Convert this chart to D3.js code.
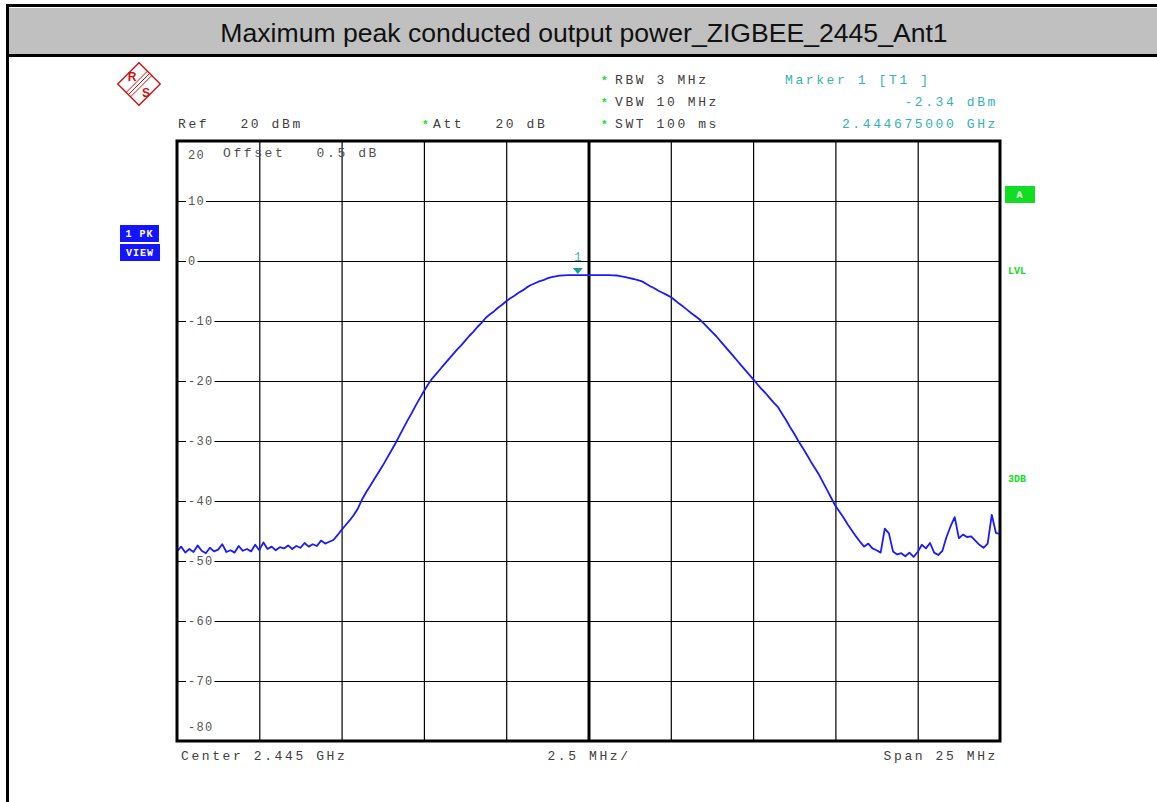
<!DOCTYPE html>
<html>
<head>
<meta charset="utf-8">
<script src="https://cdn.jsdelivr.net/npm/d3@7"></script>
<style>
body { margin: 0; background: #fff; }
svg text { font-family: "Courier New", "Liberation Mono", monospace; }
</style>
</head>
<body>
<div id="chart"></div>
<script>
const titleText = "Maximum peak conducted output power_ZIGBEE_2445_Ant1";
const centerMHz = 2445;
const spanMHz = 25;
const divMHz = 2.5;
const stepMHz = 0.125;
const yTicks = [20, 10, 0, -10, -20, -30, -40, -50, -60, -70, -80];
const markerMHz = 2444.675;
const markerDbm = -2.34;

// trace 1 (peak), one value per sweep point, 0.125 MHz apart from the left edge
const traceDbm = [
  -48.4, -47.6, -48.6, -48.0, -48.5, -47.4, -48.3, -48.7, -47.8, -48.4,
  -48.1, -47.2, -48.5, -48.2, -48.6, -47.5, -48.3, -48.0, -48.4, -47.3,
  -48.2, -46.9, -48.0, -47.6, -48.2, -47.7, -47.9, -47.4, -48.0, -47.5,
  -47.8, -47.0, -47.6, -47.2, -47.5, -46.6, -47.1, -46.8, -46.5, -45.7,
  -44.8, -44.0, -43.2, -42.3, -41.2, -39.7, -38.5, -37.4, -36.3, -35.2,
  -34.1, -32.9, -31.7, -30.5, -29.2, -27.9, -26.6, -25.4, -24.1, -22.9,
  -21.7, -20.6, -19.6, -18.8, -18.0, -17.2, -16.4, -15.6, -14.8, -14.1,
  -13.3, -12.5, -11.8, -11.0, -10.3, -9.5, -8.9, -8.4, -7.8, -7.3,
  -6.7, -6.2, -5.8, -5.3, -4.9, -4.4, -4.0, -3.7, -3.4, -3.2,
  -2.9, -2.7, -2.55, -2.45, -2.38, -2.36, -2.35, -2.34, -2.34, -2.35,
  -2.35, -2.35, -2.36, -2.36, -2.36, -2.37, -2.38, -2.42, -2.55, -2.7,
  -2.85, -3.0, -3.2, -3.4, -3.8, -4.2, -4.55, -4.95, -5.3, -5.65,
  -6.0, -6.55, -7.1, -7.6, -8.15, -8.7, -9.2, -9.75, -10.4, -11.1,
  -11.8, -12.5, -13.3, -14.1, -14.9, -15.7, -16.5, -17.3, -18.1, -18.9,
  -19.7, -20.5, -21.3, -22.0, -22.8, -23.6, -24.3, -25.4, -26.5, -27.7,
  -28.8, -30.0, -31.1, -32.2, -33.4, -34.5, -35.6, -36.9, -38.2, -39.5,
  -40.8, -41.8, -42.8, -43.9, -44.9, -45.9, -46.8, -47.6, -47.1, -47.9,
  -48.2, -48.6, -44.6, -45.4, -48.4, -48.9, -48.7, -49.2, -48.6, -49.3,
  -48.5, -47.3, -47.9, -47.0, -48.6, -49.0, -48.3, -46.0, -44.2, -42.7,
  -46.2, -45.6, -46.0, -45.9, -46.6, -47.3, -47.8, -47.1, -42.3, -45.3,
  -45.5
];

const width = 1157;
const height = 802;
const plot = { left: 177, top: 141, right: 1000, bottom: 741 };
const startMHz = centerMHz - spanMHz / 2;

const textGrey = "#404040";
const teal = "#33b3b3";
const green = "#11dd22";
const blue = "#1414ff";

const svg = d3.select("#chart")
              .append("svg")
              .attr("width", width)
              .attr("height", height)
              .style("display", "block");

// frame and title band
svg.append("rect")
   .attr("x", 8).attr("y", 8)
   .attr("width", width).attr("height", 47)
   .attr("fill", "#c0c0c0");
svg.append("path")
   .attr("d", `M7.5,${height} V5.5 H${width}`)
   .attr("fill", "none").attr("stroke", "#000").attr("stroke-width", 3);
svg.append("line")
   .attr("x1", 7).attr("x2", width).attr("y1", 55.5).attr("y2", 55.5)
   .attr("stroke", "#000").attr("stroke-width", 3);
svg.append("text")
   .attr("x", 584).attr("y", 33)
   .attr("text-anchor", "middle")
   .attr("dominant-baseline", "central")
   .style("font-family", "Arial, 'Liberation Sans', sans-serif")
   .attr("font-size", 26.6)
   .attr("fill", "#111")
   .text(titleText);

// R&S logo
const logo = svg.append("g").attr("transform", "translate(139,84)");
logo.append("rect")
    .attr("x", -15).attr("y", -15).attr("width", 30).attr("height", 30)
    .attr("transform", "rotate(45)")
    .attr("fill", "none").attr("stroke", "#cc1111").attr("stroke-width", 1.4);
[-2.2, 0, 2.2].forEach(o => {
  logo.append("line")
      .attr("x1", 10.6 + o).attr("y1", -10.6 + o)
      .attr("x2", -10.6 + o).attr("y2", 10.6 + o)
      .attr("stroke", "#cc1111").attr("stroke-width", 1);
});
logo.append("text").attr("x", -7).attr("y", -3).text("R")
    .style("font-family", "Arial, 'Liberation Sans', sans-serif")
    .attr("font-size", 12).attr("font-weight", "bold").attr("fill", "#cc1111")
    .attr("text-anchor", "middle");
logo.append("text").attr("x", 7).attr("y", 13).text("S")
    .style("font-family", "Arial, 'Liberation Sans', sans-serif")
    .attr("font-size", 12).attr("font-weight", "bold").attr("fill", "#cc1111")
    .attr("text-anchor", "middle");

// header texts
function label(x, y, txt, color, anchor) {
  return svg.append("text")
            .attr("x", x).attr("y", y)
            .attr("text-anchor", anchor || "start")
            .attr("dominant-baseline", "central")
            .attr("font-size", 13)
            .attr("letter-spacing", 2.6)
            .attr("fill", color)
            .style("white-space", "pre")
            .text(txt);
}
function star(x, y) {
  svg.append("text")
     .attr("x", x).attr("y", y + 1)
     .attr("dominant-baseline", "central")
     .attr("font-size", 11).attr("font-weight", "bold")
     .attr("fill", green).text("*");
}
label(178, 124, "Ref   20 dBm", textGrey);
star(422, 124);
label(433, 124, "Att   20 dB", textGrey);
star(601, 80); star(601, 102); star(601, 124);
label(615, 80, "RBW 3 MHz", textGrey);
label(615, 102, "VBW 10 MHz", textGrey);
label(615, 124, "SWT 100 ms", textGrey);
label(785, 80, "Marker 1 [T1 ]", teal);
label(998, 102, "-2.34 dBm", teal, "end");
label(998, 124, "2.444675000 GHz", teal, "end");

// side annotations
function tag(x, y, w, h, txt, fill) {
  svg.append("rect").attr("x", x).attr("y", y).attr("width", w).attr("height", h).attr("fill", fill);
  svg.append("text")
     .attr("x", x + w / 2).attr("y", y + h / 2 + 1)
     .attr("text-anchor", "middle").attr("dominant-baseline", "central")
     .attr("font-size", 10).attr("font-weight", "bold").attr("letter-spacing", 1)
     .attr("fill", "#fff").style("white-space", "pre").text(txt);
}
tag(120, 225, 39, 17, "1 PK", blue);
tag(120, 244, 40, 17, "VIEW", blue);
tag(1005, 186, 30, 17, "A", green);
["LVL", "3DB"].forEach((t, i) => {
  svg.append("text")
     .attr("x", 1008).attr("y", i === 0 ? 271 : 479)
     .attr("dominant-baseline", "central")
     .attr("font-size", 10).attr("font-weight", "bold")
     .attr("fill", green).text(t);
});

// scales
const x = d3.scaleLinear()
            .domain([startMHz, startMHz + spanMHz])
            .range([plot.left, plot.right]);
const y = d3.scaleLinear()
            .domain([d3.min(yTicks), d3.max(yTicks)])
            .range([plot.bottom, plot.top]);

const xDivs = d3.range(1, spanMHz / divMHz).map(i => startMHz + i * divMHz);

// grid via axes
const xGrid = svg.append("g")
                 .attr("transform", `translate(0, ${plot.bottom})`)
                 .call(d3.axisBottom(x)
                         .tickValues(xDivs)
                         .tickSize(-(plot.bottom - plot.top))
                         .tickFormat(""));
xGrid.select(".domain").remove();
xGrid.selectAll("line")
     .attr("stroke", "#000")
     .attr("stroke-width", d => Math.abs(d - centerMHz) < 1e-6 ? 3 : 1.2);

const yGrid = svg.append("g")
                 .attr("transform", `translate(${plot.left}, 0)`)
                 .call(d3.axisLeft(y)
                         .tickValues(yTicks.slice(1, -1))
                         .tickSize(-(plot.right - plot.left))
                         .tickFormat(""));
yGrid.select(".domain").remove();
yGrid.selectAll("line").attr("stroke", "#000").attr("stroke-width", 1.2);

// y labels
const yLab = svg.append("g");
yTicks.forEach((v, i) => {
  const inner = i > 0 && i < yTicks.length - 1;
  const yy = i === 0 ? y(v) + 14 : (i === yTicks.length - 1 ? y(v) - 14 : y(v));
  const t = yLab.append("text")
                .attr("x", 188).attr("y", yy + 1)
                .attr("dominant-baseline", "central")
                .attr("font-size", 12).attr("letter-spacing", 1.3)
                .attr("fill", "#555")
                .text(v);
  if (inner) {
    const b = t.node().getBBox();
    yLab.insert("rect", "text")
        .attr("x", b.x - 2).attr("y", b.y)
        .attr("width", b.width + 3).attr("height", b.height)
        .attr("fill", "#fff");
  }
});

label(223, 153, "Offset   0.5 dB", "#505050");

// trace
const traceLine = d3.line()
                    .x((d, i) => x(startMHz + i * stepMHz))
                    .y(d => y(d));
svg.append("path")
   .datum(traceDbm)
   .attr("d", traceLine)
   .attr("fill", "none")
   .attr("stroke", "#1a1aff")
   .attr("stroke-width", 1.8)
   .attr("stroke-linejoin", "round");

// marker
const mx = x(markerMHz), my = y(markerDbm);
svg.append("path")
   .attr("d", `M${mx - 5},${my - 7} L${mx + 5},${my - 7} L${mx},${my - 1} Z`)
   .attr("fill", "#1a9a9a");
svg.append("text")
   .attr("x", mx).attr("y", my - 17)
   .attr("text-anchor", "middle").attr("dominant-baseline", "central")
   .attr("font-size", 12).attr("fill", teal).text("1");

// plot border
svg.append("rect")
   .attr("x", plot.left).attr("y", plot.top)
   .attr("width", plot.right - plot.left).attr("height", plot.bottom - plot.top)
   .attr("fill", "none").attr("stroke", "#000").attr("stroke-width", 3);

// bottom annotations
label(181, 756, "Center 2.445 GHz", textGrey);
label(589, 756, "2.5 MHz/", textGrey, "middle");
label(998, 756, "Span 25 MHz", textGrey, "end");
</script>
</body>
</html>
